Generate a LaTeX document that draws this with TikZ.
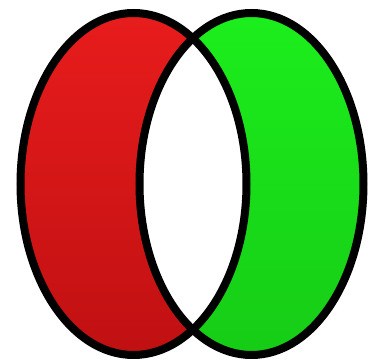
\documentclass[tikz,border=0pt]{standalone}
\definecolor{rotOben}{RGB}{232,28,28}
\definecolor{rotUnten}{RGB}{192,16,18}
\definecolor{gruenOben}{RGB}{28,238,28}
\definecolor{gruenUnten}{RGB}{22,204,22}
\begin{document}
\begin{tikzpicture}[x=1pt,y=1pt]
    % Rahmen
    \useasboundingbox (0,0) rectangle (376,361);

    % Mittelpunkte
    \coordinate (L) at (133.5,177);
    \coordinate (R) at (251.5,177);

    % Flaechen
    \shade[top color=rotOben, bottom color=rotUnten] (L) ellipse (113 and 171);
    \shade[top color=gruenOben, bottom color=gruenUnten] (R) ellipse (112 and 171);

    % Schnittmenge weiss
    \begin{scope}
        \clip (L) ellipse (113 and 171);
        \fill[white] (R) ellipse (112 and 171);
    \end{scope}

    % Raender
    \draw[line width=8pt] (L) ellipse (113 and 171);
    \draw[line width=8pt] (R) ellipse (112 and 171);
\end{tikzpicture}
\end{document}
